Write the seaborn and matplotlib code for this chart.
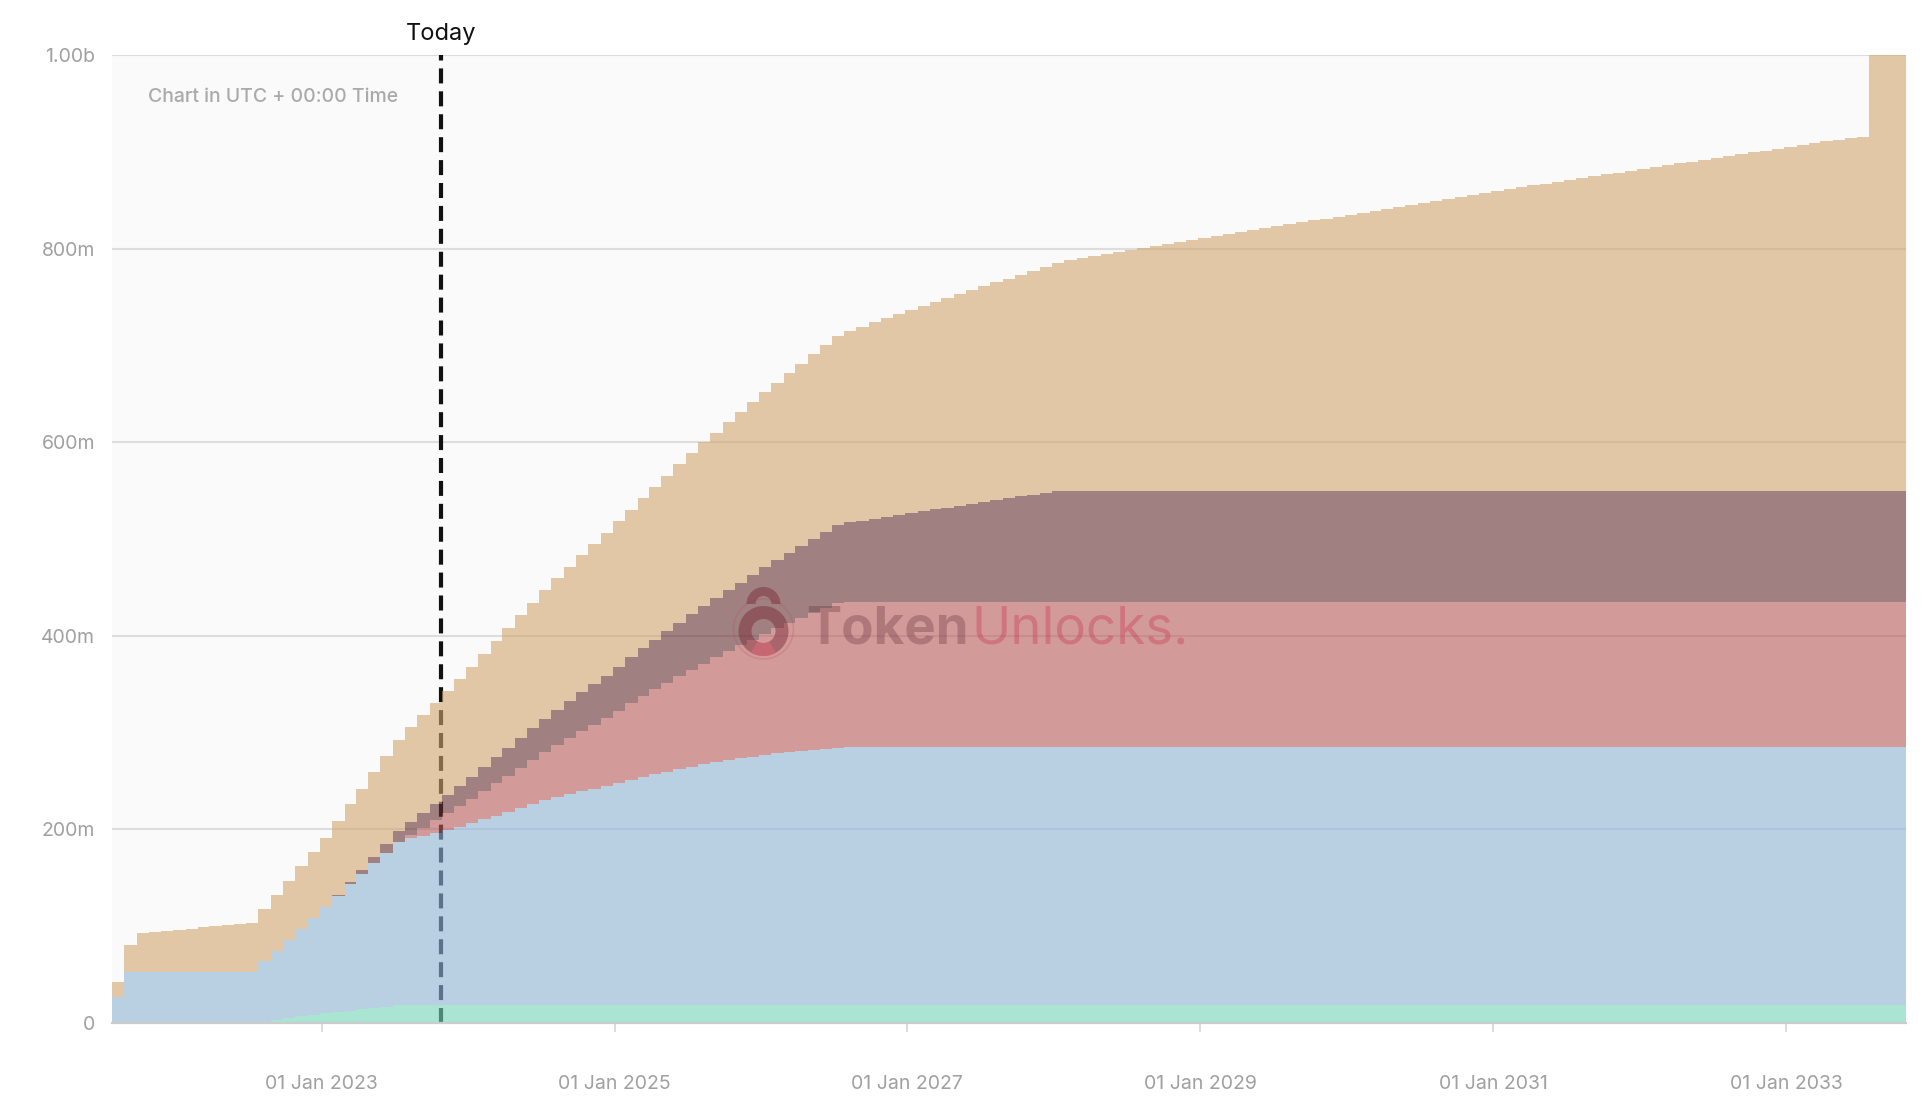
"""Token unlock schedule - stacked monthly step area chart."""

import matplotlib
matplotlib.use("Agg")

import matplotlib.dates as mdates
import matplotlib.pyplot as plt
import pandas as pd
import seaborn as sns
from matplotlib.patches import Circle, Wedge
from matplotlib.transforms import IdentityTransform

# --- data (millions of tokens, value after each monthly unlock on the 27th) ---
first_unlock = "2021-07-27"
chart_end = "2033-10-27"
today = "2023-10-25"

advisors = ([0.0] * 12
            + [1.4, 3.1, 5.2, 6.9, 8.3, 10.0, 11.4, 12.7, 14.1, 15.5, 16.8, 18.3]
            + [18.3] * 121)

investors = ([26.9] + [53.0] * 11
             + [62.3, 71.6, 80.9, 90.2, 100.5, 110.2, 120.1, 130.6, 139.5, 149.5, 159.1, 169.0]
             + [172.5, 175.2, 178.3, 181.1, 184.5, 188.0, 192.1, 195.9, 199.4, 203.5, 207.6, 212.1]
             + [215.2, 218.2, 221.2, 223.7, 226.2, 229.3]
             + [232.7, 236.1, 238.9, 241.3, 244.1, 246.5, 248.9, 251.3, 253.4, 255.1, 256.8, 258.6,
                260.3, 261.7, 262.7, 263.7, 264.8, 265.8]
             + [266.5] * 85)

founders = ([0.0] * 24
            + [3.4, 7.6, 13.1, 17.2, 21.4, 24.8, 29.3, 33.4, 37.5, 41.3, 45.8, 49.6]
            + [53.8, 58.0, 62.1, 66.3, 70.5, 74.7]
            + [79.2, 83.2, 87.4, 91.6, 95.8, 100.0, 104.1, 108.3, 112.5, 116.6, 120.8, 125.0,
               129.1, 133.3, 137.5, 141.6, 145.8, 150.0]
            + [150.0] * 85)

treasury = ([0.0] * 18
            + [1.2, 2.8, 4.6, 6.8, 8.8, 10.6]
            + [13.1, 15.5, 16.5, 18.9, 20.6, 23.3, 24.4, 26.8, 29.2, 31.3, 32.7, 34.4]
            + [36.3, 38.2, 40.1, 42.0, 43.9, 45.8]
            + [47.7, 49.6, 51.5, 53.5, 55.4, 57.3, 59.2, 61.1, 63.1, 65.0, 66.9, 68.8,
               70.7, 72.7, 74.6, 76.5, 78.4, 80.4, 82.3, 84.2, 86.1, 88.0, 90.0, 91.9,
               93.8, 95.7, 97.6, 99.6, 101.5, 103.4, 105.3, 107.2, 109.2, 111.1, 113.0, 115.0]
            + [115.0] * 67)

community = ([15.1, 27.5, 40.0, 41.2, 42.3, 43.5, 44.6, 45.8, 46.9, 48.1, 49.2, 50.4]
             + [53.7, 57.2, 60.3, 65.1, 67.5, 71.3]
             + [75.8, 79.9, 83.7, 87.2, 90.9, 94.8, 98.2, 101.3, 104.1, 107.5, 110.6, 113.6,
                117.1, 120.2, 123.3, 126.8, 129.8, 132.9]
             + [135.8, 138.7, 141.8, 144.5, 147.6, 150.5]
             + [152.4, 154.8, 157.6, 160.7, 163.5, 166.7, 169.4, 170.8, 173.3, 175.9, 178.4, 180.9,
                183.1, 185.2, 187.7, 190.7, 193.1, 195.2]
             + [197.8, 200.3, 203.3, 205.2, 207.3, 209.5, 211.8, 214.0, 216.2, 218.4, 220.6, 222.9,
                225.1, 226.9, 229.1, 231.3, 233.5, 235.6]
             + [238.1, 240.2, 242.6, 244.6, 246.7, 248.8, 250.8, 252.9, 255.0, 257.0, 259.1, 261.2]
             + [262.9, 265.0, 267.0, 269.1, 271.1, 273.2, 275.3, 277.4, 279.4, 281.1, 283.2, 285.3,
                287.3, 289.4, 291.1, 293.2]
             + [295.6, 297.7, 299.4, 301.4, 303.5, 305.6, 307.6, 309.4, 311.4, 313.5, 315.6, 317.3,
                319.4, 321.1, 323.2, 324.9, 326.9, 328.6, 330.7, 332.4, 334.5, 336.2, 338.3, 340.0,
                342.1, 343.8, 345.9, 347.6, 349.7, 351.4, 353.5, 355.2, 357.2, 359.0, 361.0, 362.7,
                364.5, 365.8]
             + [450.2])

series = [advisors, investors, founders, treasury, community]
colors = ["#75d7bb", "#8fb4d5", "#b95a5a", "#642f2f", "#d2a56e"]

y_ticks = [0, 200, 400, 600, 800, 1000]
y_labels = ["0", "200m", "400m", "600m", "800m", "1.00b"]
x_ticks = ["2023-01-01", "2025-01-01", "2027-01-01", "2029-01-01", "2031-01-01", "2033-01-01"]

# --- build the x axis: one point per monthly unlock + the chart end ---
dates = pd.date_range(first_unlock, periods=len(community), freq=pd.DateOffset(months=1))
x = list(dates) + [pd.Timestamp(chart_end)]
stack = [s + [s[-1]] for s in series]

sns.set_theme(style="white")
plt.rcParams["font.family"] = ["Inter", "DejaVu Sans"]

fig = plt.figure(figsize=(19.22, 11.02), dpi=100)
ax = fig.add_axes([112 / 1922, 1 - 1023 / 1102, (1906 - 112) / 1922, 968 / 1102])
ax.set_facecolor("#fafafa")
ax.set_axisbelow(True)

ax.stackplot(x, *stack, colors=colors, alpha=0.6, step="post", linewidth=0, zorder=2)

# today marker, under the translucent fills
ax.axvline(pd.Timestamp(today), color="#111111", lw=3, ls=(0, (3.6, 1.9)), zorder=1.5)
ax.annotate("Today", xy=(mdates.date2num(pd.Timestamp(today)), 1), xycoords=("data", "axes fraction"),
            xytext=(0, 15), textcoords="offset points", ha="center", va="center",
            fontsize=17, color="#111111")

ax.text(0.020, 0.957, "Chart in UTC + 00:00 Time", transform=ax.transAxes,
        fontsize=14, color="#aaaaaa", fontweight="medium", va="center", ha="left")

ax.set_xlim(x[0], x[-1])
ax.set_ylim(0, 1000)
ax.set_yticks(y_ticks, y_labels)
ax.set_xticks([pd.Timestamp(t) for t in x_ticks])
ax.xaxis.set_major_formatter(mdates.DateFormatter("%d %b %Y"))

ax.grid(axis="y", color="#dddddd", lw=1.5)
ax.grid(axis="x", visible=False)
sns.despine(ax=ax, left=True, top=True, right=True)
ax.spines["bottom"].set_color("#cccccc")
ax.spines["bottom"].set_linewidth(1.6)
ax.spines["bottom"].set_zorder(3)
ax.tick_params(axis="y", length=0, pad=12, labelsize=14, labelcolor="#a0a0a0")
ax.tick_params(axis="x", length=6.5, width=1.2, color="#d6d6d6", pad=31,
               labelsize=14, labelcolor="#a0a0a0", bottom=True)
ax.set_xlabel("")
ax.set_ylabel("")

# --- watermark ---
H = 1102
px = IdentityTransform()
fig.add_artist(Circle((763.5, H - 629), 30, transform=px, fill=False,
                      ec="#c05060", lw=1.2, alpha=0.25, zorder=5))
fig.add_artist(Wedge((763.5, H - 631), 25, 0, 360, width=13, transform=px,
                     fc="#7a2535", alpha=0.45, lw=0, zorder=5))
fig.add_artist(Wedge((763.5, H - 631), 25, 240, 300, width=13, transform=px,
                     fc="#e06a78", alpha=0.55, lw=0, zorder=6))
fig.add_artist(Wedge((763.5, H - 604), 17, 0, 180, width=9, transform=px,
                     fc="#7a2535", alpha=0.45, lw=0, zorder=5))
t1 = fig.text(806 / 1922, 1 - 644 / H, "Token", fontsize=38, fontweight="bold",
              color="#5a2a30", alpha=0.3, ha="left", va="baseline", zorder=6)
ax.annotate("Unlocks.", xy=(1, 0), xycoords=t1, xytext=(2, 0), textcoords="offset points",
            ha="left", va="bottom", fontsize=38, color="#c8304a", alpha=0.35,
            annotation_clip=False, zorder=6)

fig.savefig("out.png", dpi=100, facecolor="white")
